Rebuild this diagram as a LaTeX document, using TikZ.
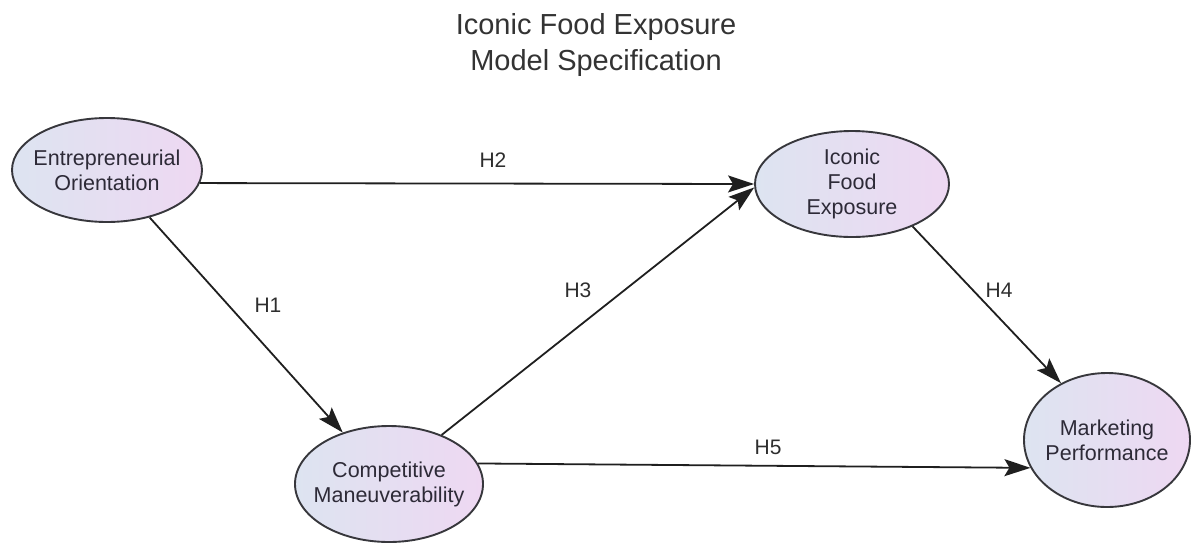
\documentclass[tikz,border=0pt]{standalone}
\usepackage{fontspec}
\setmainfont{Liberation Sans}
\usetikzlibrary{shapes.geometric,arrows.meta}
\definecolor{lblue}{RGB}{221,228,241}
\definecolor{lpink}{RGB}{238,216,242}
\definecolor{edge}{RGB}{55,55,60}
\definecolor{txt}{RGB}{45,42,55}
\tikzset{
  latent/.style={ellipse, draw=edge, line width=1.9pt, left color=lblue, right color=lpink,
    inner xsep=-25pt, inner ysep=-12pt, align=center, text=txt,
    font=\fontsize{21.5}{25}\selectfont},
  arr/.style={draw=black!88, line width=1.8pt, -{Stealth[length=26pt,width=17pt,inset=5pt]}},
  hyp/.style={text=black!82, font=\fontsize{21}{25}\selectfont},
}
\begin{document}
\begin{tikzpicture}[x=1pt,y=-1pt]
\useasboundingbox (0,0) rectangle (1193,544);
\node[text=black!80, align=center, font=\fontsize{29}{36}\selectfont] (title) at (596,45) {Iconic Food Exposure\\Model Specification};
\node[latent, minimum width=190pt, minimum height=104pt] (EO) at (107,170) {Entrepreneurial\\Orientation};
\node[latent, minimum width=188pt, minimum height=116pt] (CM) at (389,484) {Competitive\\Maneuverability};
\node[latent, minimum width=194pt, minimum height=106pt] (IFE) at (852,184) {Iconic\\Food\\Exposure};
\node[latent, minimum width=166pt, minimum height=134pt] (MP) at (1107,440) {Marketing\\Performance};
\draw[arr] (EO.-8) -- (IFE.west);
\draw[arr] (EO) -- (CM);
\draw[arr] (CM.43) -- (IFE.182);
\draw[arr] (IFE.-35) -- (MP.129);
\draw[arr] (CM.13) -- (MP.200);
\node[hyp] (h2) at (493,160) {H2};
\node[hyp] (h1) at (268,305) {H1};
\node[hyp] (h3) at (578,290) {H3};
\node[hyp] (h4) at (999,290) {H4};
\node[hyp] (h5) at (768,447) {H5};
\end{tikzpicture}
\end{document}
